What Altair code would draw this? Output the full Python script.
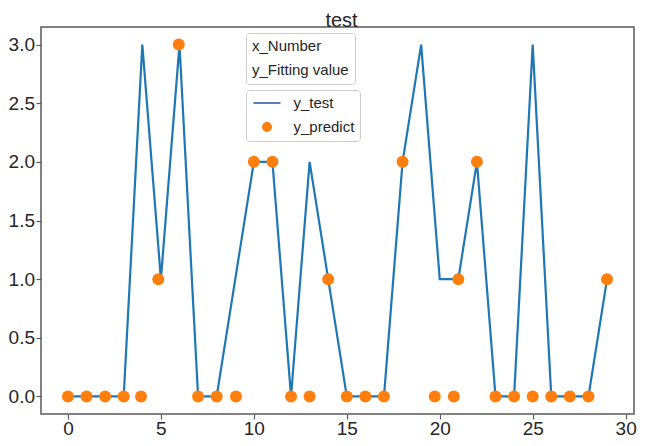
import altair as alt
import pandas as pd

# ---- data ----
x_index = list(range(30))
y_test = [0, 0, 0, 0, 3, 1, 3, 0, 0, 1, 2, 2, 0, 2, 1, 0, 0, 0, 2, 3, 1, 1, 2, 0, 0, 3, 0, 0, 0, 1]
x_pred = [0, 1, 2, 3, 3.93, 4.86, 5.96, 7, 8, 9.04, 10, 11, 12, 13, 14, 15, 16, 17, 18,
          19.73, 20.76, 21, 22, 23, 24, 25, 26, 27, 28, 29]
y_predict = [0, 0, 0, 0, 0, 1, 3, 0, 0, 0, 2, 2, 0, 0, 1, 0, 0, 0, 2, 0, 0, 1, 2, 0, 0, 0, 0, 0, 0, 1]
x_ticks = [0, 5, 10, 15, 20, 25, 30]
y_ticks = [0.0, 0.5, 1.0, 1.5, 2.0, 2.5, 3.0]
series_names = ["y_test", "y_predict"]
note_lines = ["x_Number", "y_Fitting value"]

FONT = "Liberation Sans"
TXT = "#262626"
EDGE = "#595959"

test_df = pd.DataFrame({"x": x_index, "y": y_test})
pred_df = pd.DataFrame({"x": x_pred, "y": y_predict})
series_df = pd.DataFrame({"series": series_names})
note_df = pd.DataFrame({"note": ["n"]})

xscale = alt.Scale(domain=[-1.45, 30.45], nice=False, zero=False)
yscale = alt.Scale(domain=[-0.15, 3.15], nice=False, zero=False)

xaxis = alt.Axis(values=x_ticks, title=None, grid=False, domain=False, labelFontSize=19,
                 labelFont=FONT, labelColor=TXT, tickColor=EDGE, tickSize=5, tickWidth=1.2,
                 labelPadding=0)
yaxis = alt.Axis(values=y_ticks, format=".1f", title=None, grid=False, domain=False,
                 labelFontSize=19, labelFont=FONT, labelColor=TXT, tickColor=EDGE,
                 tickSize=5, tickWidth=1.2, labelPadding=1.5)

line = alt.Chart(test_df).mark_line(color="#1f77b4", strokeWidth=2.2).encode(
    x=alt.X("x:Q", scale=xscale, axis=xaxis),
    y=alt.Y("y:Q", scale=yscale, axis=yaxis),
)

points = alt.Chart(pred_df).mark_circle(color="#ff7f0e", size=144, opacity=1).encode(
    x=alt.X("x:Q", scale=xscale),
    y=alt.Y("y:Q", scale=yscale),
)

line_path = "M-2.7,0H2.7"
dot_path = "M0.8,0A0.8,0.8,0,1,1,-0.8,0A0.8,0.8,0,1,1,0.8,0Z"

legend2 = alt.Legend(
    title=None, orient="none", legendX=205, legendY=63, fillColor="white",
    strokeColor="#cccccc", cornerRadius=3, padding=5.5, labelFontSize=15, labelFont=FONT,
    labelColor=TXT, symbolSize=100, symbolStrokeWidth=2, symbolOffset=8,
    labelOffset=19, rowPadding=7, symbolOpacity=1,
)

series_layer = alt.Chart(series_df).transform_filter("false").mark_point(
    filled=True, size=100, strokeWidth=2, opacity=1
).encode(
    fill=alt.Fill("series:N", scale=alt.Scale(domain=series_names, range=["#5a7db5", "#ff7f0e"]),
                  legend=legend2),
    stroke=alt.Stroke("series:N", scale=alt.Scale(domain=series_names, range=["#5a7db5", "#ff7f0e"]),
                      legend=legend2),
    shape=alt.Shape("series:N", scale=alt.Scale(domain=series_names, range=[line_path, dot_path]),
                    legend=legend2),
)

legend1 = alt.Legend(
    title=note_lines, orient="none", legendX=205, legendY=6, fillColor="white",
    strokeColor="#cccccc", cornerRadius=3, padding=6, titleFontSize=15, titleFont=FONT,
    titleFontWeight="normal", titleColor=TXT, titleLineHeight=24, titlePadding=0,
    titleAnchor="start", values=[],
)

note_layer = alt.Chart(note_df).transform_filter("false").mark_point(filled=True).encode(
    opacity=alt.Opacity("note:O", scale=alt.Scale(domain=["n"], range=[1]),
                        legend=legend1),
)

chart = alt.layer(line, points, series_layer, note_layer).properties(
    width=593, height=387,
    background="white",
    title=alt.TitleParams(text="test", fontSize=20, fontWeight="normal", font=FONT,
                          color=TXT, anchor="middle", offset=1, dy=4.6, dx=4),
    autosize=alt.AutoSizeParams(type="none"),
    padding={"left": 33, "top": 19, "right": 3, "bottom": 24},
).configure_view(stroke=EDGE, strokeWidth=1.5)

chart.save("out.html", embed_options={"renderer": "svg", "actions": False})
